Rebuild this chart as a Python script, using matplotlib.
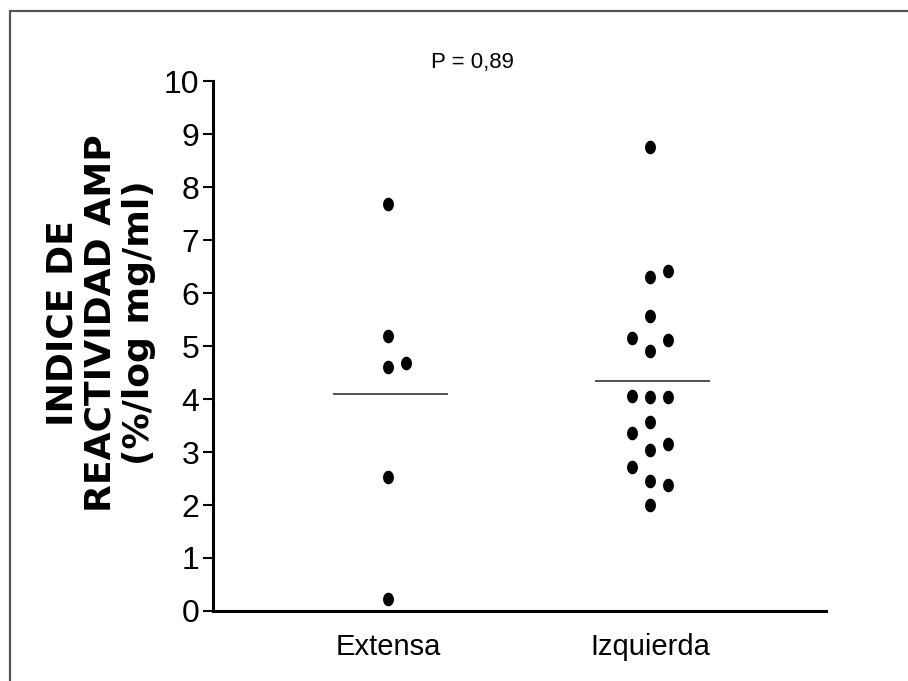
"""Indice de reactividad AMP: Extensa vs Izquierda (column scatter con media)."""

import matplotlib

matplotlib.use("Agg")
import matplotlib.pyplot as plt
import numpy as np
from matplotlib.patches import Rectangle
from matplotlib.path import Path

# --- Datos ---
GRUPOS = ["Extensa", "Izquierda"]
EXTENSA = [0.23, 2.53, 4.60, 4.68, 5.19, 7.68]
IZQUIERDA = [
    2.00, 2.38, 2.45, 2.72, 3.04, 3.15, 3.36, 3.57, 4.04,
    4.04, 4.06, 4.91, 5.11, 5.15, 5.57, 6.30, 6.42, 8.75,
]
MEDIAS = [4.09, 4.34]
Y_TICKS = list(range(0, 11))
P_TEXTO = "P = 0,89"
Y_LABEL = "INDICE DE\nREACTIVIDAD AMP\n(%/log mg/ml)"

FUENTE = ["Liberation Sans", "DejaVu Sans"]


def enjambre(valores, paso=0.069, umbral=0.42):
    """Desplaza lateralmente los puntos que se solapan (orden ascendente)."""
    valores = np.asarray(valores, dtype=float)
    ocupados = {}
    slots = np.zeros(len(valores))
    for i in np.argsort(valores, kind="stable"):
        y = valores[i]
        for s in (0, 1, -1, 2, -2):
            if all(abs(y - v) >= umbral for v in ocupados.get(s, [])):
                break
        ocupados.setdefault(s, []).append(y)
        slots[i] = s
    return slots * paso


# marcador eliptico (ligeramente mas alto que ancho)
t = np.linspace(0, 2 * np.pi, 60)
ELIPSE = Path(np.column_stack([0.4 * np.cos(t), 0.5 * np.sin(t)]), closed=True)

fig = plt.figure(figsize=(9.08, 6.81), dpi=100)
ax = fig.add_axes([0.2346, 0.1028, 0.9097 - 0.2346, 0.881 - 0.1028])

for k, valores in enumerate([EXTENSA, IZQUIERDA]):
    xs = k + enjambre(valores)
    ax.plot(xs, valores, linestyle="none", marker=ELIPSE, markersize=9.8,
            color="black", markeredgewidth=0)
    ax.hlines(MEDIAS[k], k - 0.21, k + 0.23, color="#222222", linewidth=1.1)

ax.set_xlim(-0.668, 1.672)
ax.set_ylim(0, 10)
ax.set_yticks(Y_TICKS)
ax.set_xticks(range(len(GRUPOS)))
ax.set_xticklabels(GRUPOS, family=FUENTE, fontsize=21)
ax.set_yticklabels([str(v) for v in Y_TICKS], family=FUENTE, fontsize=23)
ax.tick_params(axis="y", direction="out", length=7, width=1.5, pad=3)
ax.tick_params(axis="x", length=0, pad=16)
for lado in ("top", "right"):
    ax.spines[lado].set_visible(False)
for lado in ("left", "bottom"):
    ax.spines[lado].set_linewidth(2.2)

fig.text(0.111, 0.5257, Y_LABEL, rotation=90, ha="center", va="center",
         multialignment="center", fontsize=26, fontweight="bold",
         family="DejaVu Sans", linespacing=1.15)
fig.text(0.52, 0.908, P_TEXTO, ha="center", va="center", fontsize=16,
         family=FUENTE)

# marco de la figura
fig.patches.append(Rectangle((0.011, -0.05), 1.1, 0.9838 + 0.05, fill=False,
                             edgecolor="#555555", linewidth=1.6,
                             transform=fig.transFigure, figure=fig))

fig.savefig("out.png", dpi=100)
